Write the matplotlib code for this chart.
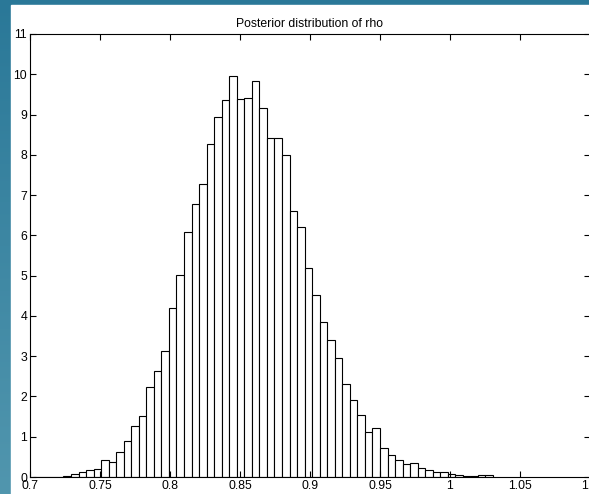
import numpy as np
import matplotlib.pyplot as plt
from matplotlib.patches import Rectangle

# histogram of rho samples (density), equal-width bins
bin_start = 0.70236
bin_width = 0.005383
density = [
    0.0, 0.005, 0.005, 0.01, 0.02,
    0.07, 0.12, 0.17, 0.19, 0.41, 0.37, 0.61, 0.89, 1.27, 1.52,
    2.24, 2.64, 3.13, 4.19, 5.02, 6.09, 6.77, 7.27, 8.28, 8.94,
    9.36, 9.96, 9.38, 9.40, 9.84, 9.16, 8.42, 8.42, 7.99, 6.60,
    6.21, 5.19, 4.52, 3.86, 3.40, 2.95, 2.30, 1.90, 1.55, 1.11,
    1.21, 0.71, 0.54, 0.41, 0.33, 0.34, 0.23, 0.18, 0.13, 0.12,
    0.08, 0.06, 0.03, 0.02, 0.04, 0.04,
]
x_ticks = [0.7, 0.75, 0.8, 0.85, 0.9, 0.95, 1, 1.05, 1.1]
x_tick_labels = ['0.7', '0.75', '0.8', '0.85', '0.9', '0.95', '1', '1.05', '1.1']
y_ticks = list(range(0, 12))

plt.rcParams['font.family'] = ['Liberation Sans', 'DejaVu Sans']

fig = plt.figure(figsize=(5.89, 4.94), dpi=100)

# blue frame behind the white page
bg = fig.add_axes([0, 0, 1, 1])
grad = np.linspace(0, 1, 256).reshape(-1, 1)
bg.imshow(grad, aspect='auto', extent=[0, 1, 0, 1], origin='upper',
          cmap=plt.matplotlib.colors.LinearSegmentedColormap.from_list(
              'frame', ['#2a7898', '#5196ae']))
bg.add_patch(Rectangle((11 / 589, 0), 1, 1 - 5 / 494, color='white'))
bg.set_xlim(0, 1)
bg.set_ylim(0, 1)
bg.axis('off')

ax = fig.add_axes([30 / 589, 17 / 494, 560 / 589, 443 / 494])
edges = bin_start + bin_width * np.arange(len(density))
ax.bar(edges, density, width=bin_width, align='edge',
       facecolor='white', edgecolor='black', linewidth=0.8)

ax.set_xlim(0.7, 1.1)
ax.set_ylim(0, 11)
ax.set_xticks(x_ticks)
ax.set_xticklabels(x_tick_labels)
ax.set_yticks(y_ticks)
ax.tick_params(direction='in', top=True, right=True, length=4, width=0.8,
               labelsize=8.8, pad=2)
for s in ax.spines.values():
    s.set_linewidth(0.8)
ax.set_title('Posterior distribution of rho', fontsize=8.8, pad=5)

fig.savefig('out.png', dpi=100)
